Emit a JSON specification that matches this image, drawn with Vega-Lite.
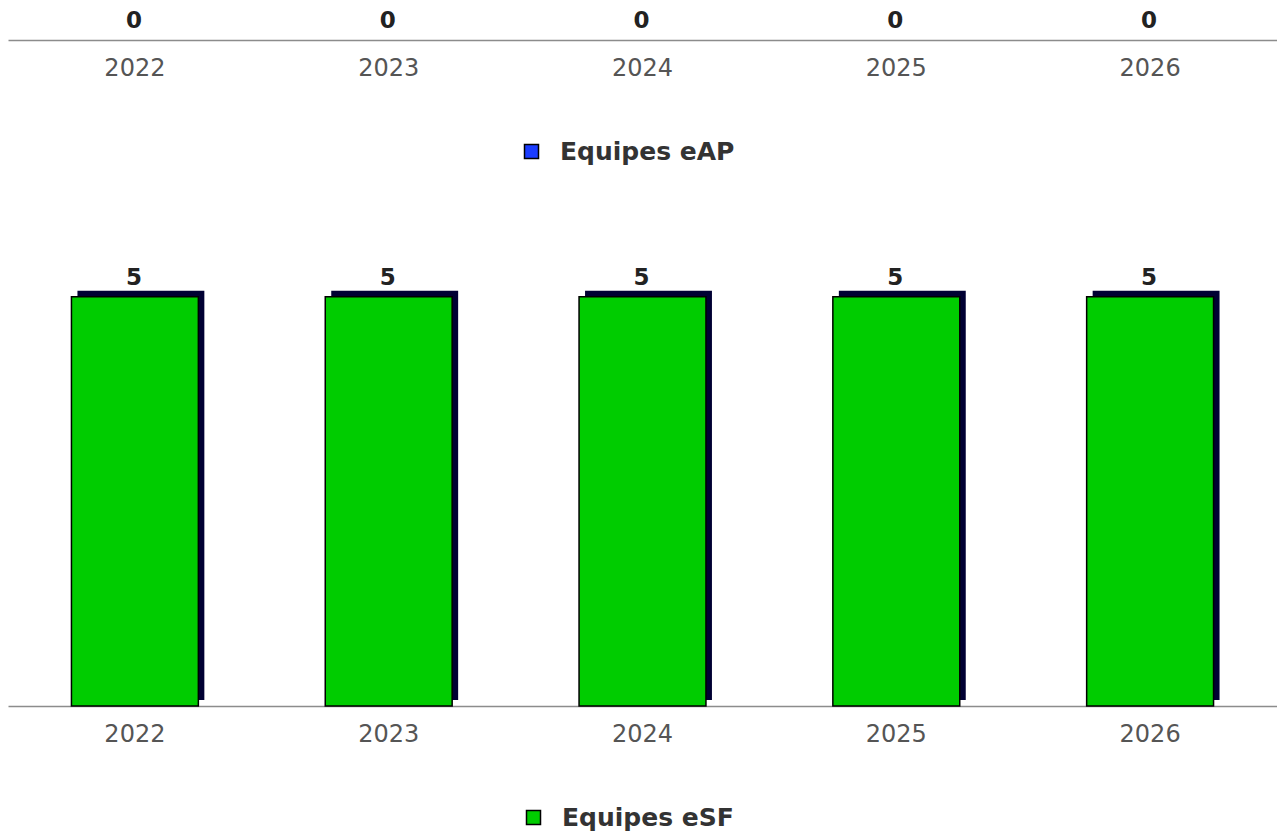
{
  "$schema": "https://vega.github.io/schema/vega-lite/v6.json",
  "background": "white",
  "padding": {"left": 8, "top": 8, "right": 0, "bottom": 0},
  "config": {
    "view": {"stroke": null},
    "font": "DejaVu Sans",
    "axisX": {
      "domainColor": "#8c8c8c",
      "domainWidth": 1.5,
      "ticks": false,
      "grid": false,
      "labelFont": "DejaVu Sans",
      "labelFontSize": 24,
      "labelColor": "#555555",
      "labelPadding": 16,
      "labelAngle": 0,
      "title": null
    },
    "legend": {
      "orient": "none",
      "title": null,
      "padding": 0,
      "symbolType": "square",
      "symbolSize": 196,
      "symbolStrokeColor": "#000000",
      "symbolStrokeWidth": 1.5,
      "labelFont": "DejaVu Sans",
      "labelFontSize": 25,
      "labelFontWeight": "bold",
      "labelColor": "#333333",
      "labelOffset": 16,
      "labelLimit": 0
    }
  },
  "data": {
    "values": [
      {"ano": "2022", "serie": "Equipes eAP", "valor": 0},
      {"ano": "2023", "serie": "Equipes eAP", "valor": 0},
      {"ano": "2024", "serie": "Equipes eAP", "valor": 0},
      {"ano": "2025", "serie": "Equipes eAP", "valor": 0},
      {"ano": "2026", "serie": "Equipes eAP", "valor": 0},
      {"ano": "2022", "serie": "Equipes eSF", "valor": 5},
      {"ano": "2023", "serie": "Equipes eSF", "valor": 5},
      {"ano": "2024", "serie": "Equipes eSF", "valor": 5},
      {"ano": "2025", "serie": "Equipes eSF", "valor": 5},
      {"ano": "2026", "serie": "Equipes eSF", "valor": 5}
    ]
  },
  "spacing": 175,
  "bounds": "flush",
  "resolve": {"scale": {"color": "independent", "x": "independent", "y": "independent"}, "legend": {"color": "independent"}},
  "vconcat": [
    {
      "width": 1269,
      "height": 32,
      "transform": [{"filter": "datum.serie === 'Equipes eAP'"}],
      "encoding": {
        "x": {"field": "ano", "type": "nominal", "scale": {"paddingInner": 0.5, "paddingOuter": 0.25}},
        "y": {"field": "valor", "type": "quantitative", "scale": {"domain": [0, 5], "nice": false}, "axis": null}
      },
      "layer": [
        {
          "mark": {"type": "bar"},
          "encoding": {
            "color": {
              "field": "serie",
              "type": "nominal",
              "scale": {"domain": ["Equipes eAP"], "range": ["#1a3cff"]},
              "legend": {"legendX": 511, "legendY": 131}
            }
          }
        },
        {
          "mark": {"type": "text", "fontWeight": "bold", "fontSize": 23, "color": "#222222", "baseline": "alphabetic", "dy": -12, "dx": -1},
          "encoding": {"text": {"field": "valor", "type": "quantitative"}}
        }
      ]
    },
    {
      "width": 1269,
      "height": 491,
      "transform": [{"filter": "datum.serie === 'Equipes eSF'"}],
      "encoding": {
        "x": {"field": "ano", "type": "nominal", "scale": {"paddingInner": 0.5, "paddingOuter": 0.25}},
        "y": {"field": "valor", "type": "quantitative", "scale": {"domain": [0, 6], "nice": false}, "axis": null}
      },
      "layer": [
        {
          "mark": {"type": "bar", "color": "#000033", "xOffset": 6, "yOffset": -6}
        },
        {
          "mark": {"type": "bar", "stroke": "#000000", "strokeWidth": 1.5},
          "encoding": {
            "color": {
              "field": "serie",
              "type": "nominal",
              "scale": {"domain": ["Equipes eSF"], "range": ["#00cc00"]},
              "legend": {"legendX": 513, "legendY": 590}
            }
          }
        },
        {
          "mark": {"type": "text", "fontWeight": "bold", "fontSize": 23, "color": "#222222", "baseline": "alphabetic", "dy": -12, "dx": -1},
          "encoding": {"text": {"field": "valor", "type": "quantitative"}}
        }
      ]
    }
  ]
}
